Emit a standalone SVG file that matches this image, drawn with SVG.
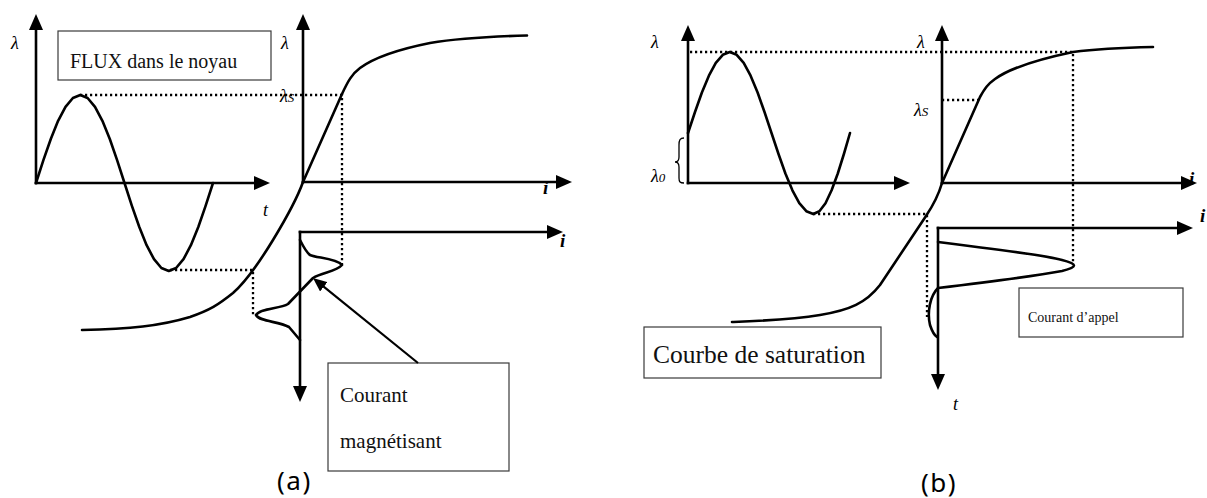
<svg xmlns="http://www.w3.org/2000/svg" width="1207" height="498" viewBox="0 0 1207 498">
<defs>
<style>
.ax{stroke:#000;stroke-width:2.6;fill:none;stroke-linecap:square}
.cv{stroke:#000;stroke-width:2.6;fill:none;stroke-linejoin:round;stroke-linecap:round}
.dot{stroke:#000;stroke-width:2.3;stroke-dasharray:2.2 2.8;fill:none}
.box{fill:#fff;stroke:#3a3a3a;stroke-width:1.2}
.lam{font-family:"Liberation Serif",serif;font-style:italic;font-size:18px;fill:#000}
.sub{font-size:13px}
.ib{font-family:"Liberation Serif",serif;font-style:italic;font-weight:bold;font-size:19px;fill:#000}
.bt{font-family:"Liberation Serif",serif;fill:#111}
.cap{font-family:"Noto Sans","DejaVu Sans",sans-serif;font-size:26px;fill:#000}
</style>
<marker id="ah" viewBox="0 0 16 14" refX="3" refY="7" markerWidth="16" markerHeight="14" markerUnits="userSpaceOnUse" orient="auto">
<path d="M0,0 L16,7 L0,14 z" fill="#000"/>
</marker>
<marker id="ahs" viewBox="0 0 14 12" refX="3" refY="6" markerWidth="14" markerHeight="12" markerUnits="userSpaceOnUse" orient="auto">
<path d="M0,0 L14,6 L0,12 z" fill="#000"/>
</marker>
</defs>

<!-- Panel (a) -->
<g id="a-flux">
<line class="ax" x1="36" y1="183" x2="36" y2="27" marker-end="url(#ah)"/>
<line class="ax" x1="36" y1="183" x2="257" y2="183" marker-end="url(#ah)"/>
<polyline class="cv" points="36,183 43.4,160.2 50.8,139 58.1,120.8 65.5,106.8 72.9,98 80.3,95 87.6,98 95,106.8 102.4,120.8 109.8,139 117.1,160.2 124.5,183 131.9,205.8 139.3,227 146.6,245.2 154,259.2 161.4,268 168.8,271 176.1,268 183.5,259.2 190.9,245.2 198.3,227 205.6,205.8 213,183"/>
<text class="lam" x="11" y="49">λ</text>
<text class="lam" x="263" y="216">t</text>
</g>
<g id="a-flux-label">
<rect class="box" x="58" y="31" width="213" height="49"/>
<text class="bt" x="70" y="68" font-size="20">FLUX dans le noyau</text>
</g>
<g id="a-saturation">
<line class="ax" x1="303" y1="182" x2="303" y2="27" marker-end="url(#ah)"/>
<line class="ax" x1="303" y1="182" x2="559" y2="182" marker-end="url(#ah)"/>
<path class="cv" d="M303,182 L342,94 C348,81 352,74 360,68 C375,57 400,49 430,43 C460,38 490,36.5 527,35.5"/>
<path class="cv" d="M303,182 C298,196 290,212 273,240 C262,258 248,280 233,293 C218,305 210,310 190,317 C160,326 130,329 82,330"/>
<text class="lam" x="281" y="49">λ</text>
<text class="lam" x="280" y="102">λ<tspan class="sub">S</tspan></text>
<text class="ib" x="543" y="194">i</text>
</g>
<g id="a-current">
<line class="ax" x1="300" y1="232" x2="300" y2="389" marker-end="url(#ah)"/>
<line class="ax" x1="300" y1="232" x2="550" y2="232" marker-end="url(#ah)"/>
<path class="cv" d="M300,240 C303,246 306,252 310,255 C316,258 336,258 342,265 C336,272 322,272 313,278 L288,304 C280,309 260,308 256,315 C260,322 278,321 289,327 L300,340"/>
<text class="ib" x="560" y="247">i</text>
</g>
<g id="a-magnetising-label">
<rect class="box" x="328" y="363" width="181" height="108"/>
<text class="bt" x="340" y="402" font-size="21">Courant</text>
<text class="bt" x="340" y="448" font-size="21">magnétisant</text>
</g>
<text class="cap" x="277" y="490" letter-spacing="1.5">(a)</text>

<!-- Panel (b) -->
<g id="b-flux">
<line class="ax" x1="688" y1="183" x2="688" y2="38" marker-end="url(#ah)"/>
<line class="ax" x1="688" y1="183" x2="897" y2="183" marker-end="url(#ah)"/>
<polyline class="cv" points="688,133 695,112 701.9,92.5 708.9,75.7 715.8,62.9 722.8,54.8 729.8,52 736.7,54.8 743.7,62.9 750.6,75.7 757.6,92.5 764.5,112 771.5,133 778.5,154 785.4,173.5 792.4,190.3 799.3,203.2 806.3,211.2 813.3,214 819.4,211.2 825.5,203.2 831.6,190.3 837.8,173.5 843.9,154 850,133"/>
<path d="M684,138 C680,138 679,140 679,145 L679,157 C679,160 678,162 675,162 C678,162 679,164 679,167 L679,178 C679,182 680,183 684,183" fill="none" stroke="#000" stroke-width="1.3"/>
<text class="lam" x="651" y="48">λ</text>
<text class="lam" x="651" y="182">λ<tspan class="sub">0</tspan></text>
</g>
<g id="b-saturation">
<line class="ax" x1="942" y1="183" x2="942" y2="38" marker-end="url(#ah)"/>
<line class="ax" x1="942" y1="183" x2="1184" y2="183" marker-end="url(#ah)"/>
<path class="cv" d="M942,183 L980,97 C985,88 988,84 995,79 C1010,68 1035,60 1073,52 C1100,48.5 1130,47.5 1153,47"/>
<path class="cv" d="M942,183 C938,197 932,207 926,216 L880,285 C866,303 850,310 820,315 C790,320 760,321 732,322"/>
<text class="lam" x="917" y="48">λ</text>
<text class="lam" x="914" y="116">λ<tspan class="sub">S</tspan></text>
<text class="ib" x="1189" y="185">i</text>
</g>
<g id="b-saturation-label">
<rect class="box" x="644" y="327" width="237" height="51"/>
<text class="bt" x="653" y="363" font-size="25.5">Courbe de saturation</text>
</g>
<g id="b-current">
<line class="ax" x1="938" y1="228" x2="938" y2="377" marker-end="url(#ah)"/>
<line class="ax" x1="938" y1="228" x2="1180" y2="228" marker-end="url(#ah)"/>
<path class="cv" d="M938,242 C990,249 1040,254 1062,260 C1078,264 1078,267 1062,271 C1030,277 980,283 938,288 C930,296 927,312 930,325 C932,331 934,335 937,337"/>
<text class="ib" x="1200" y="222">i</text>
<text class="lam" x="953" y="410">t</text>
</g>
<g id="b-inrush-label">
<rect class="box" x="1019" y="288" width="164" height="49"/>
<text class="bt" x="1028" y="322" font-size="14">Courant d’appel</text>
</g>
<text class="cap" x="921" y="492" letter-spacing="1.5">(b)</text>

<!-- Connectors: projection lines and pointer -->
<g id="connectors">
<path class="dot" d="M80,95 H342 V265"/>
<path class="dot" d="M170,270 H253 V315"/>
<path class="dot" d="M690,52 H1073 V262"/>
<path class="dot" d="M942,100 H978"/>
<path class="dot" d="M813,214 H927 V317"/>
<line x1="418" y1="363" x2="321.5" y2="284.9" stroke="#000" stroke-width="2.2" marker-end="url(#ahs)"/>
</g>
</svg>
